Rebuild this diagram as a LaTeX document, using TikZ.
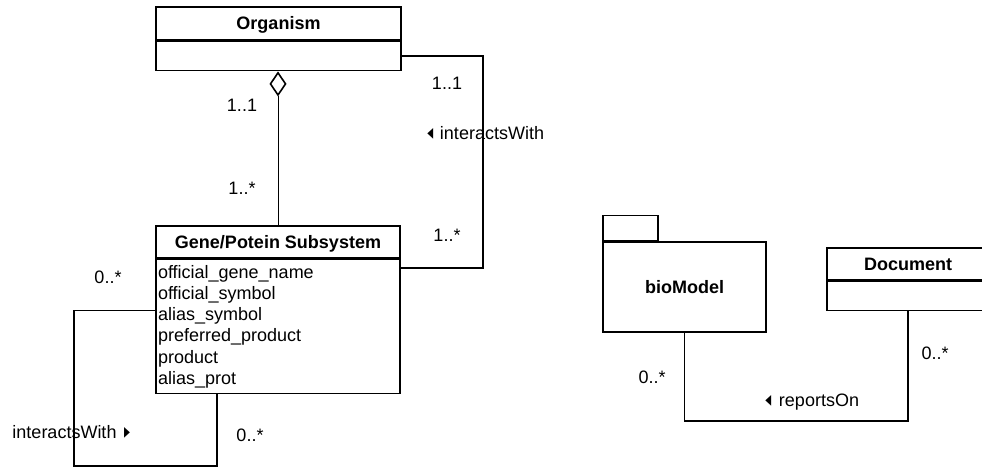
\documentclass[tikz,border=0pt]{standalone}
\usepackage{fontspec}
\usepackage{graphicx}
\setmainfont{Liberation Sans}
\newfontfamily\symbfont{DejaVu Sans}
\usetikzlibrary{arrows.meta,positioning}

\newcommand{\umlsize}{\fontsize{18}{21.3}\selectfont}
\tikzset{
  classhead/.style={draw, font=\umlsize\bfseries, inner sep=0pt, text height=12.9pt, text depth=0pt},
  classbody/.style={draw, inner sep=0pt},
  mult/.style={inner sep=0pt, text height=12.9pt, text depth=0pt}
}
\newcommand{\assocleft}{\raisebox{1.5pt}{\scalebox{0.55}[1]{\symbfont\fontsize{14}{14}\selectfont ◀}}}
\newcommand{\assocright}{\raisebox{1.5pt}{\scalebox{0.55}[1]{\symbfont\fontsize{14}{14}\selectfont ▶}}}

\begin{document}
\begin{tikzpicture}[x=1pt, y=-1pt, line width=1.6pt, font=\umlsize]
  \useasboundingbox (0,0) rectangle (982,468);
  \clip (0,0) rectangle (982,468);

  \node[classhead, minimum width=245pt, minimum height=33pt] (orgHead) at (278.5,23.5) {Organism};
  \node[classbody, minimum width=245pt, minimum height=29pt, below=0pt of orgHead] (orgBody) {};

  \node[classhead, minimum width=244pt, minimum height=32pt] (geneHead) at (278,242) {Gene/Potein Subsystem};
  \node[classbody, minimum width=244pt, minimum height=134pt, text width=240pt, align=left, below=0pt of geneHead] (geneBody) {
    official\_gene\_name\\
    official\_symbol\\
    alias\_symbol\\
    preferred\_product\\
    product\\
    alias\_prot
  };

  \node[classhead, minimum width=162pt, minimum height=32pt] (docHead) at (908,264) {Document};
  \node[classbody, minimum width=162pt, minimum height=29pt, below=0pt of docHead] (docBody) {};

  \node[classbody, font=\umlsize\bfseries, minimum width=163pt, minimum height=90pt] (pkgBody) at (684.5,287) {bioModel};
  \node[classbody, minimum width=55pt, minimum height=25pt, anchor=south west] (pkgTab) at (pkgBody.north west) {};

  \draw[line width=1pt, -{Diamond[open, length=25pt, width=17pt, line width=1.6pt]}] (geneHead.north) -- (geneHead.north |- orgBody.south);
  \draw (orgBody.east) -- ++(81,0) |- ([yshift=-9pt]geneBody.north east);
  \coordinate (loopCorner) at (74,466);
  \draw ([yshift=16pt]geneBody.west) -| (loopCorner) -| ([xshift=-61pt]geneBody.south);
  \draw (pkgBody.south) -- ++(0,88) -| (docBody.south);

  \node[mult] (aggTop) at (242,105) {1..1};
  \node[mult] (aggBot) at (242,188) {1..*};
  \node[mult] (intTop) at (447,83) {1..1};
  \node[mult] (intBot) at (447,235) {1..*};
  \node[mult] (intName) at (492,133) {interactsWith};
  \node[mult, left=5pt of intName] (intArrow) {\assocleft};
  \node[mult] (loopTop) at (108,277) {0..*};
  \node[mult] (loopName) at (64.5,432) {interactsWith};
  \node[mult, right=6pt of loopName] (loopArrow) {\assocright};
  \node[mult] (loopBot) at (250,435) {0..*};
  \node[mult] (repLeft) at (652,377) {0..*};
  \node[mult] (repName) at (819,400) {reportsOn};
  \node[mult, left=6pt of repName] (repArrow) {\assocleft};
  \node[mult] (repRight) at (935,353) {0..*};
\end{tikzpicture}
\end{document}
